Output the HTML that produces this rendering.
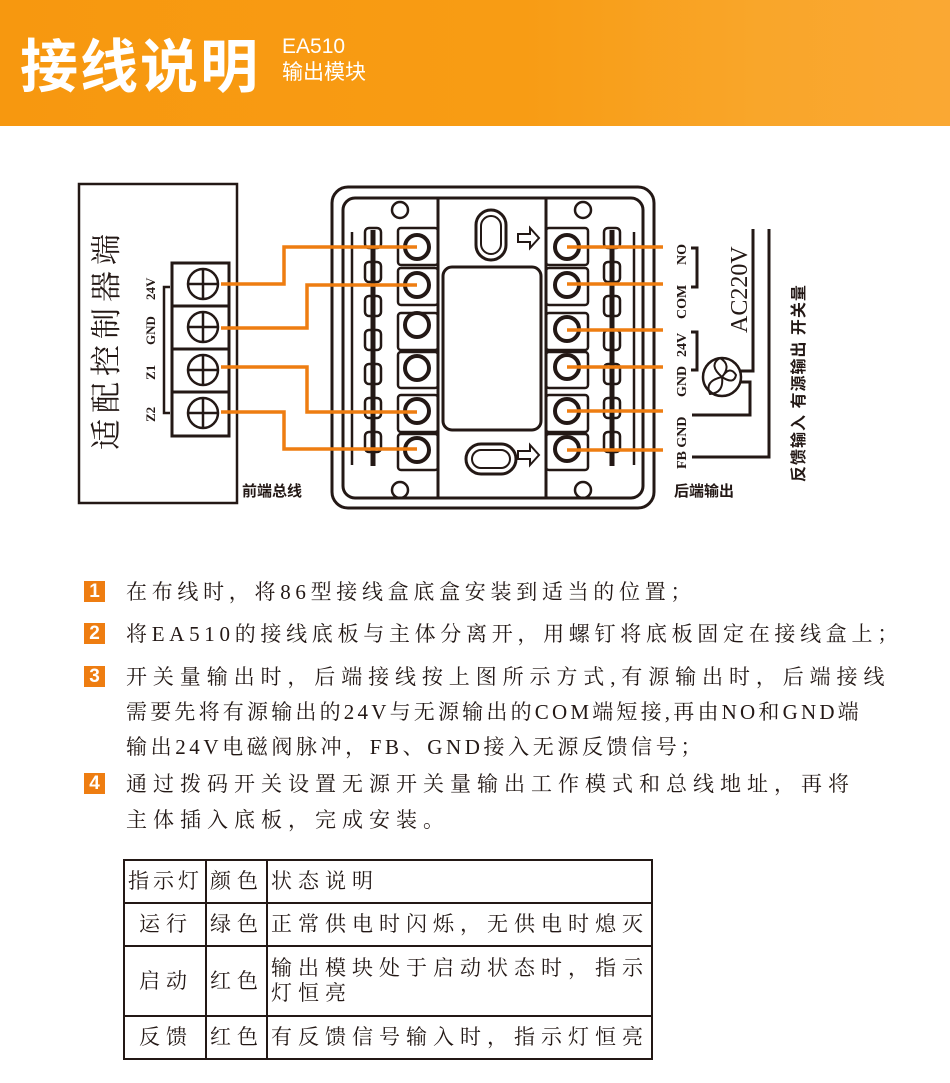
<!DOCTYPE html>
<html><head><meta charset="utf-8">
<style>
*{margin:0;padding:0;box-sizing:border-box}
body{width:950px;height:1083px;background:#fff;position:relative;overflow:hidden;font-family:"Liberation Serif","Noto Serif CJK SC",serif;color:#231815}
.hdr{position:absolute;left:0;top:0;width:950px;height:126px;background:linear-gradient(90deg,#f7980f 0%,#f89c14 55%,#f9a62a 80%,#faa833 100%)}
.t1{position:absolute;left:20px;top:20px;font:bold 58px "Liberation Sans","Noto Sans CJK SC",sans-serif;color:#fff;letter-spacing:2px}
.t2{position:absolute;left:282px;top:34px;font:21px "Liberation Sans","Noto Sans CJK SC",sans-serif;color:#fff;line-height:26px}
.ln{position:absolute;left:126px;font-size:21px;letter-spacing:6px;white-space:nowrap;line-height:24px}
.nb{position:absolute;left:84px;width:21px;height:21px;background:#ee7d11;color:#fff;font:bold 19px "Liberation Sans",sans-serif;text-align:center;line-height:21px}
table{position:absolute;left:123px;top:859px;border-collapse:collapse;font-size:21px;letter-spacing:6px}
td{border:2px solid #231815;padding:0 1px 0 3px;line-height:25px;white-space:nowrap}
</style></head><body>
<div class="hdr">
<div class="t1">接线说明</div>
<div class="t2">EA510<br>输出模块</div>
</div>

<svg style="position:absolute;left:0;top:0" width="950" height="530" viewBox="0 0 950 530">
<g fill="none" stroke="#231815">
<rect x="79" y="184" width="158" height="319" stroke-width="2.5"/>
<rect x="172" y="263" width="57" height="173" stroke-width="3"/>
<line x1="172" y1="306" x2="229" y2="306" stroke-width="3"/>
<line x1="172" y1="349" x2="229" y2="349" stroke-width="3"/>
<line x1="172" y1="392" x2="229" y2="392" stroke-width="3"/>
<g stroke-width="2.5">
<circle cx="203" cy="284" r="15"/><line x1="188" y1="284" x2="218" y2="284"/><line x1="203" y1="269" x2="203" y2="299"/>
<circle cx="203" cy="327" r="15"/><line x1="188" y1="327" x2="218" y2="327"/><line x1="203" y1="312" x2="203" y2="342"/>
<circle cx="203" cy="370" r="15"/><line x1="188" y1="370" x2="218" y2="370"/><line x1="203" y1="355" x2="203" y2="385"/>
<circle cx="203" cy="413" r="15"/><line x1="188" y1="413" x2="218" y2="413"/><line x1="203" y1="398" x2="203" y2="428"/>
</g>
<polyline points="170,287 164,287 164,413 170,413" stroke-width="2.5"/>
<rect x="332" y="187" width="322" height="321" rx="16" stroke-width="3"/>
<rect x="343" y="198" width="300" height="300" rx="12" stroke-width="3"/>
<line x1="438" y1="198" x2="438" y2="498" stroke-width="3"/>
<line x1="546" y1="198" x2="546" y2="498" stroke-width="3"/>
<rect x="443" y="267" width="98" height="163" rx="9" stroke-width="3"/>
<rect x="476" y="210" width="30" height="50" rx="15" stroke-width="3"/>
<rect x="481" y="216" width="20" height="38" rx="10" stroke-width="2"/>
<rect x="466" y="444" width="50" height="30" rx="15" stroke-width="3"/>
<rect x="472" y="450" width="38" height="18" rx="9" stroke-width="2"/>
<path d="M518 234 h12 v-6 l9 10 l-9 10 v-6 h-12z" stroke-width="2"/>
<path d="M518 451 h12 v-6 l9 10 l-9 10 v-6 h-12z" stroke-width="2"/>
<g stroke-width="2.5">
<rect x="398" y="228" width="40" height="37" rx="3"/><rect x="398" y="268" width="40" height="37" rx="3"/>
<rect x="398" y="313" width="40" height="37" rx="3"/><rect x="398" y="352" width="40" height="36" rx="3"/>
<rect x="398" y="395" width="40" height="37" rx="3"/><rect x="398" y="434" width="40" height="36" rx="3"/>
<rect x="546" y="228" width="42" height="37" rx="3"/><rect x="546" y="268" width="42" height="37" rx="3"/>
<rect x="546" y="313" width="42" height="37" rx="3"/><rect x="546" y="352" width="42" height="36" rx="3"/>
<rect x="546" y="395" width="42" height="37" rx="3"/><rect x="546" y="434" width="42" height="36" rx="3"/>
</g>
<g stroke-width="4">
<circle cx="417" cy="247" r="12"/><circle cx="417" cy="285" r="12"/><circle cx="417" cy="325" r="12"/><circle cx="417" cy="368" r="12"/><circle cx="417" cy="411" r="12"/><circle cx="417" cy="450" r="12"/>
<circle cx="567" cy="247" r="12"/><circle cx="567" cy="285" r="12"/><circle cx="567" cy="329" r="12"/><circle cx="567" cy="367" r="12"/><circle cx="567" cy="411" r="12"/><circle cx="567" cy="449" r="12"/>
</g>
<g stroke-width="2.5">
<circle cx="400" cy="210" r="8"/><circle cx="583" cy="210" r="8"/><circle cx="400" cy="490" r="8"/><circle cx="583" cy="490" r="8"/>
</g>
<g stroke-width="5">
<line x1="373" y1="230" x2="373" y2="466"/><line x1="612" y1="230" x2="612" y2="466"/>
</g>
<g stroke-width="2.5">
<rect x="365" y="228" width="16" height="20" rx="4"/><rect x="365" y="262" width="16" height="20" rx="4"/><rect x="365" y="296" width="16" height="20" rx="4"/><rect x="365" y="330" width="16" height="20" rx="4"/><rect x="365" y="364" width="16" height="20" rx="4"/><rect x="365" y="398" width="16" height="20" rx="4"/><rect x="365" y="432" width="16" height="20" rx="4"/>
<rect x="604" y="228" width="16" height="20" rx="4"/><rect x="604" y="262" width="16" height="20" rx="4"/><rect x="604" y="296" width="16" height="20" rx="4"/><rect x="604" y="330" width="16" height="20" rx="4"/><rect x="604" y="364" width="16" height="20" rx="4"/><rect x="604" y="398" width="16" height="20" rx="4"/><rect x="604" y="432" width="16" height="20" rx="4"/>
<line x1="352" y1="232" x2="352" y2="465"/><line x1="634" y1="232" x2="634" y2="465"/>
</g>
<g stroke-width="3">
<polyline points="691,248 697,248 697,287 691,287"/>
<polyline points="691,332 697,332 697,370 691,370"/>
<circle cx="722" cy="377" r="19" stroke-width="2.5"/>
<path d="M722 377 q-14 -12 -2 -19 q12 7 2 19 M722 377 q2 16 -12 17 q-6 -13 12 -17 M722 377 q12 8 14 -2 q-6 -10 -14 2" stroke-width="2"/>
<polyline points="753,229 753,371 741,371"/>
<polyline points="740,382 750,382 750,415 692,415"/>
<polyline points="769,229 769,457 692,457"/>
</g>
</g>
<g fill="none" stroke="#ee7d11" stroke-width="3.5">
<polyline points="221,284 284,284 284,247 417,247"/>
<polyline points="221,328 307,328 307,285 417,285"/>
<polyline points="221,367 307,367 307,412 417,412"/>
<polyline points="221,412 284,412 284,449 417,449"/>
<line x1="567" y1="247" x2="663" y2="247"/><line x1="567" y1="284" x2="663" y2="284"/>
<line x1="567" y1="330" x2="663" y2="330"/><line x1="567" y1="367" x2="663" y2="367"/>
<line x1="567" y1="411" x2="663" y2="411"/><line x1="567" y1="450" x2="663" y2="450"/>
</g>
<g fill="#231815">
<text transform="translate(117,450) rotate(-90)" font-family="Liberation Serif,Noto Serif CJK SC,serif" font-size="31" letter-spacing="6">适配控制器端</text>
<g font-family="Liberation Serif,serif" font-weight="bold" font-size="13">
<text transform="translate(155,300) rotate(-90)">24V</text>
<text transform="translate(155,345) rotate(-90)">GND</text>
<text transform="translate(155,380) rotate(-90)">Z1</text>
<text transform="translate(155,422) rotate(-90)">Z2</text>
<text transform="translate(686,265) rotate(-90)" font-size="14">NO</text>
<text transform="translate(686,319) rotate(-90)" font-size="14">COM</text>
<text transform="translate(686,357) rotate(-90)" font-size="14">24V</text>
<text transform="translate(686,397) rotate(-90)" font-size="14">GND</text>
<text transform="translate(686,469) rotate(-90)" font-size="14">FB GND</text>
</g>
<text transform="translate(747,333) rotate(-90)" font-family="Liberation Serif,serif" font-size="24">AC220V</text>
<text transform="translate(804,482) rotate(-90)" font-family="Liberation Sans,Noto Sans CJK SC,sans-serif" font-weight="bold" font-size="16" letter-spacing="1">反馈输入 有源输出 开关量</text>
<text x="242" y="496" font-family="Liberation Sans,Noto Sans CJK SC,sans-serif" font-weight="bold" font-size="15">前端总线</text>
<text x="674" y="496" font-family="Liberation Sans,Noto Sans CJK SC,sans-serif" font-weight="bold" font-size="15">后端输出</text>
</g>
</svg>

<div class="nb" style="top:581px">1</div>
<div class="nb" style="top:623px">2</div>
<div class="nb" style="top:666px">3</div>
<div class="nb" style="top:773px">4</div>
<div class="ln" style="top:580px;letter-spacing:4.7px">在布线时，将86型接线盒底盒安装到适当的位置；</div>
<div class="ln" style="top:622px;letter-spacing:4.7px">将EA510的接线底板与主体分离开，用螺钉将底板固定在接线盒上；</div>
<div class="ln" style="top:665px;letter-spacing:5.9px">开关量输出时，后端接线按上图所示方式,有源输出时，后端接线</div>
<div class="ln" style="top:700px;letter-spacing:3.2px">需要先将有源输出的24V与无源输出的COM端短接,再由NO和GND端</div>
<div class="ln" style="top:735px;letter-spacing:3.6px">输出24V电磁阀脉冲，FB、GND接入无源反馈信号；</div>
<div class="ln" style="top:772px;letter-spacing:6px">通过拨码开关设置无源开关量输出工作模式和总线地址，再将</div>
<div class="ln" style="top:808px;letter-spacing:6px">主体插入底板，完成安装。</div>

<table>
<tr style="height:43px"><td style="width:82px;letter-spacing:4px">指示灯</td><td style="width:61px">颜色</td><td style="width:385px">状态说明</td></tr>
<tr style="height:43px"><td style="text-align:center">运行</td><td>绿色</td><td>正常供电时闪烁，无供电时熄灭</td></tr>
<tr style="height:70px"><td style="text-align:center">启动</td><td>红色</td><td>输出模块处于启动状态时，指示<br>灯恒亮</td></tr>
<tr style="height:43px"><td style="text-align:center">反馈</td><td>红色</td><td>有反馈信号输入时，指示灯恒亮</td></tr>
</table>
</body></html>
